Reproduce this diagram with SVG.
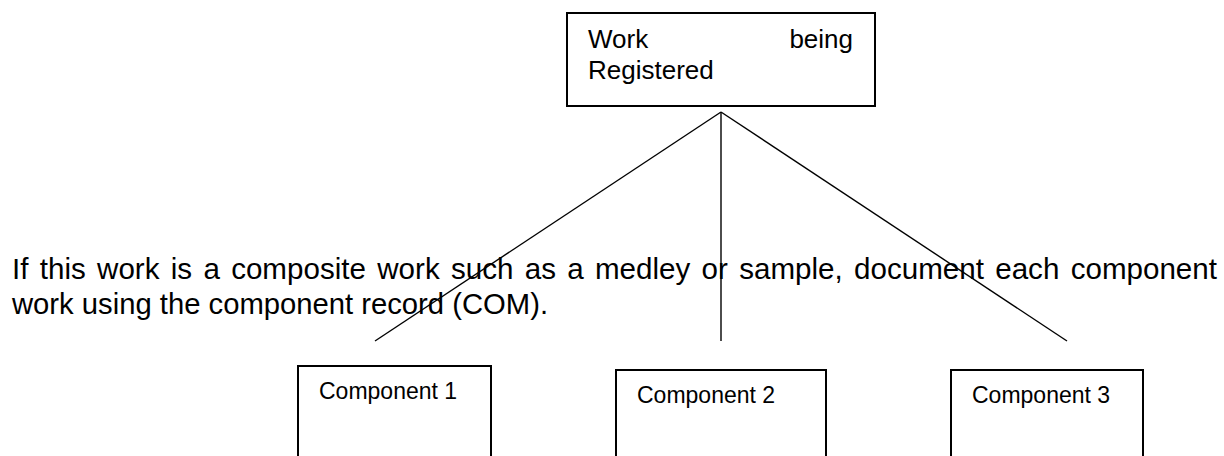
<svg xmlns="http://www.w3.org/2000/svg" width="1224" height="456" viewBox="0 0 1224 456">
  <style>
    .box { fill: #ffffff; stroke: #000000; stroke-width: 2; }
    .link { stroke: #000000; stroke-width: 1.4; fill: none; }
    .label { font-family: "Liberation Sans", Arial, sans-serif; fill: #000000; }
    .head { font-size: 26px; }
    .comp { font-size: 23px; }
    .body { font-size: 29px; }
  </style>
  <rect width="1224" height="456" fill="#ffffff"/>

  <!-- parent work -->
  <g id="work">
    <rect class="box" x="567" y="13" width="308" height="93"/>
    <text class="label head" x="588" y="48">Work</text>
    <text class="label head" x="853" y="48" text-anchor="end">being</text>
    <text class="label head" x="588" y="79">Registered</text>
  </g>

  <!-- explanatory paragraph -->
  <g id="note">
    <text class="label body" x="12" y="279" textLength="1205" lengthAdjust="spacingAndGlyphs" word-spacing="3">If this work is a composite work such as a medley or sample, document each component</text>
    <text class="label body" x="12" y="314" textLength="536" lengthAdjust="spacingAndGlyphs">work using the component record (COM).</text>
  </g>

  <!-- component records -->
  <g id="component1">
    <rect class="box" x="298" y="366" width="193" height="110"/>
    <text class="label comp" x="319" y="399">Component 1</text>
  </g>
  <g id="component2">
    <rect class="box" x="616" y="370" width="210" height="110"/>
    <text class="label comp" x="637" y="403">Component 2</text>
  </g>
  <g id="component3">
    <rect class="box" x="951" y="370" width="192" height="110"/>
    <text class="label comp" x="972" y="403">Component 3</text>
  </g>

  <!-- connectors fanning out from the work -->
  <g id="connectors">
    <line class="link" x1="721" y1="112" x2="375" y2="341"/>
    <line class="link" x1="721" y1="112" x2="721" y2="341"/>
    <line class="link" x1="721" y1="112" x2="1067" y2="341"/>
  </g>
</svg>
